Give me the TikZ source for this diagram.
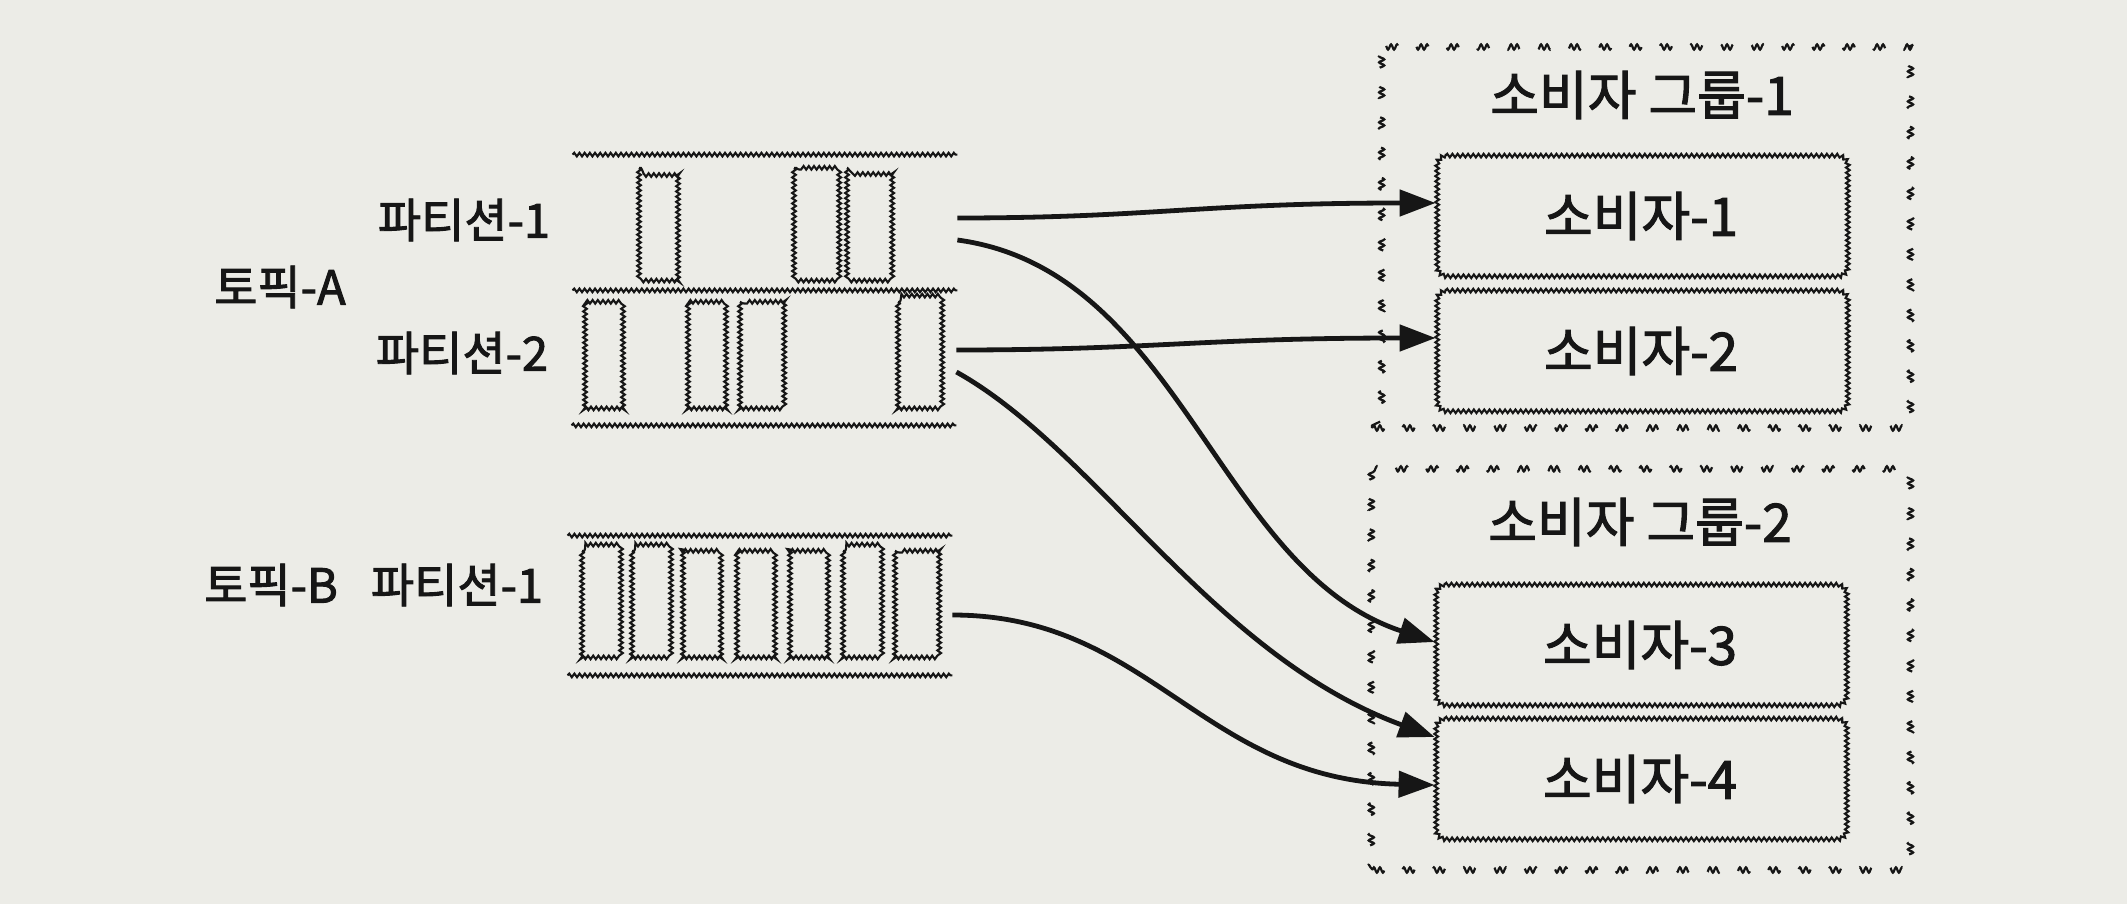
\documentclass[tikz,border=0pt]{standalone}
\usepackage{fontspec}
\newfontfamily\krfont{Noto Sans CJK KR}[BoldFont=Noto Sans CJK KR, BoldFeatures={FakeBold=2}]
\usetikzlibrary{decorations.pathmorphing,arrows.meta}

\definecolor{paper}{RGB}{236,236,231}
\definecolor{ink}{RGB}{22,22,22}

% rounded box outline traced with a wavy line around node #1
\newcommand\wavybox[1]{%
  \path[wavy] ([xshift=5pt]#1.north west) -- ([xshift=-5pt]#1.north east)
    arc[start angle=90, end angle=0, radius=5pt]
    -- ([yshift=5pt]#1.south east)
    arc[start angle=0, end angle=-90, radius=5pt]
    -- ([xshift=5pt]#1.south west)
    arc[start angle=270, end angle=180, radius=5pt]
    -- ([yshift=-5pt]#1.north west)
    arc[start angle=180, end angle=90, radius=5pt] -- cycle;}

\begin{document}
\begin{tikzpicture}[x=0.5pt,y=-0.5pt,
  wavy/.style={draw=ink, line width=1.05pt, decorate,
    decoration={snake, amplitude=0.9pt, segment length=2.6pt}},
  lane/.style={inner sep=0pt, minimum width=192pt},
  txt/.style={text=ink, font=\krfont\bfseries\fontsize{23.5}{28}\selectfont, inner sep=0pt},
  bigtxt/.style={text=ink, font=\krfont\bfseries\fontsize{26.5}{31}\selectfont, inner sep=0pt},
  consumer/.style={minimum width=205pt, minimum height=60pt, bigtxt},
  group/.style={draw=ink, line width=1.1pt, decorate,
    decoration={snake, amplitude=1.3pt, segment length=3pt},
    dash pattern=on 12pt off 19pt, inner sep=0pt, minimum width=267pt},
  flow/.style={draw=ink, line width=2.4pt,
    -{Triangle[length=18pt,width=13pt]}}]

% page
\fill[paper] (0,0) rectangle (2127,904);
\useasboundingbox (0,0) rectangle (2127,904);

% topics and partitions
\node[lane, minimum height=67.5pt] (pA1) at (765,222.5) {};
\node[lane, minimum height=67.5pt] (pA2) at (764,357.5) {};
\node[lane, minimum height=69.5pt] (pB1) at (760,605.5) {};

\path[wavy] (pA1.north west) -- (pA1.north east);
\path[wavy] (pA1.south west) -- (pA1.south east);
\path[wavy] (pA2.south west) -- (pA2.south east);
\path[wavy] (pB1.north west) -- (pB1.north east);
\path[wavy] (pB1.south west) -- (pB1.south east);

% messages stored in each partition
\foreach \a/\b in {639/679, 794/836, 847/888}
  \path[wavy] (\a,168) rectangle (\b,277);
\foreach \a/\b in {585/625, 688/728, 740/782, 898/942}
  \path[wavy] (\a,302) rectangle (\b,410);
\foreach \a/\b in {582/622, 632/672, 683/725, 737/778, 790/832, 843/883, 895/938}
  \path[wavy] (\a,551) rectangle (\b,658);

\node[txt] (lA1) at (464,220) {파티션-1};
\node[txt] (tA)  at (280,287) {토픽-A};
\node[txt] (lA2) at (462,353) {파티션-2};
\node[txt] (tB)  at (271,585) {토픽-B};
\node[txt] (lB1) at (457,585) {파티션-1};

% consumer groups
\node[group, minimum height=190.5pt] (g1) at (1639,237.5) {};
\node[group, minimum height=198.5pt] (g2) at (1639,671.5) {};
\node[bigtxt] (g1t) at (1642,95) {소비자 그룹-1};
\node[bigtxt] (g2t) at (1640,522) {소비자 그룹-2};

\node[consumer] (c1) at (1641,216) {소비자-1};
\node[consumer] (c2) at (1641,351) {소비자-2};
\node[consumer] (c3) at (1640,645) {소비자-3};
\node[consumer] (c4) at (1640,779) {소비자-4};
\wavybox{c1}
\wavybox{c2}
\wavybox{c3}
\wavybox{c4}

% partition -> consumer assignments
\draw[flow] ([yshift=2.25pt]pA1.east) .. controls +(193,0) and +(-235,0) .. ([yshift=6.5pt]c1.west);
\draw[flow] ([yshift=-8.75pt]pA1.east) .. controls +(223,30) and +(-218,-72) .. ([yshift=1.5pt]c3.west);
\draw[flow] ([yshift=3.75pt]pA2.east) .. controls +(195,0) and +(-235,0) .. ([yshift=6.5pt]c2.west);
\draw[flow] ([yshift=-7.25pt]pA2.east) .. controls +(140,78) and +(-223,-82) .. ([yshift=21pt]c4.west);
\draw[flow] ([yshift=-4.75pt]pB1.east) .. controls +(198,0) and +(-233,-5) .. ([yshift=-3pt]c4.west);

\end{tikzpicture}
\end{document}
